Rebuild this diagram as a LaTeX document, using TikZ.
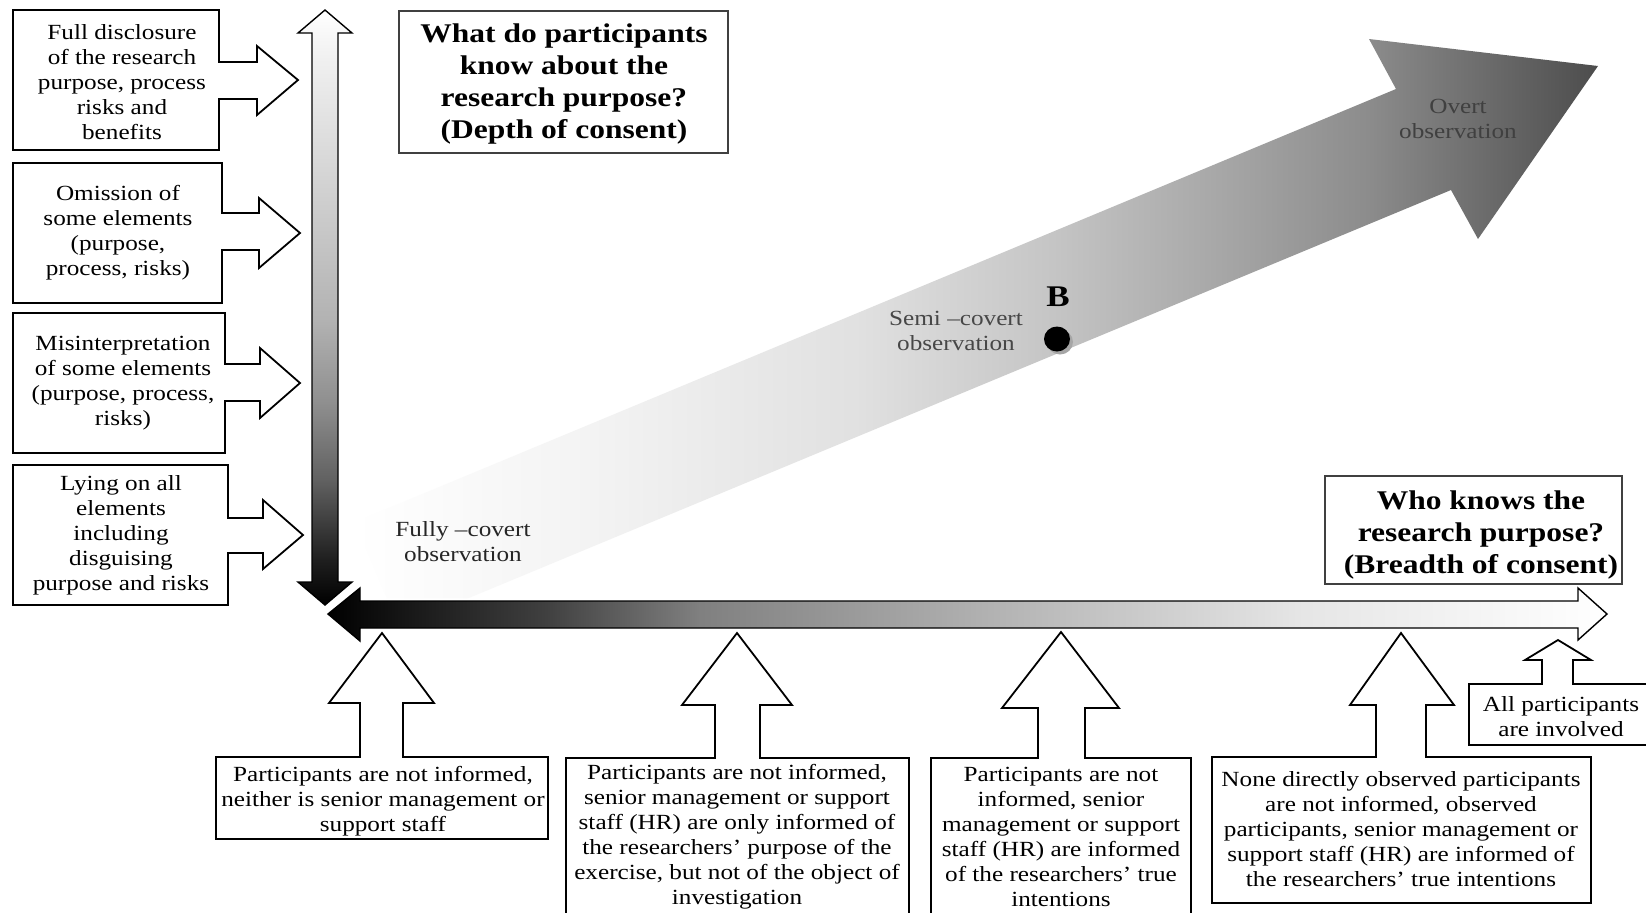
\documentclass[tikz,border=0pt]{standalone}
\usepackage{fontspec}
\setmainfont{Liberation Serif}[FakeStretch=1.167]
\newcommand\ntxt{\fontsize{10.8}{12.5}\selectfont}
\newcommand\ttxt{\fontsize{13.5}{15.9}\selectfont\bfseries}
\newcommand\wtxt{\fontsize{13.5}{16}\selectfont\bfseries}
\pgfdeclarehorizontalshading{diagshade}{100bp}{color(0bp)=(white); color(25bp)=(white); color(35bp)=(black!5); color(45.3bp)=(black!12); color(53.2bp)=(black!23); color(65.7bp)=(black!45); color(75bp)=(black!70); color(100bp)=(black!70)}
\pgfdeclarehorizontalshading{hshade}{100bp}{color(0bp)=(black); color(25bp)=(black); color(33.5bp)=(black!75); color(39.5bp)=(black!50); color(51bp)=(black!30); color(63bp)=(black!10); color(75bp)=(white); color(100bp)=(white)}
\pgfdeclareverticalshading{vshade}{100bp}{color(0bp)=(black); color(25bp)=(black); color(28.8bp)=(black!88); color(35.5bp)=(black!62); color(42bp)=(black!44); color(49bp)=(black!30); color(70.8bp)=(black!6); color(75bp)=(white); color(100bp)=(white)}
\tikzset{
  boxline/.style={draw=black, line width=0.9pt, fill=white, line join=miter},
  txt/.style={font=\ntxt, align=center, inner sep=0pt},
  ttl/.style={font=\ttxt, align=center, inner sep=0pt},
  wtl/.style={font=\wtxt, align=center, inner sep=0pt},
  qbox/.style={draw=black!75, line width=0.7pt, fill=white},
}
\begin{document}
\begin{tikzpicture}[x=0.5pt,y=-0.5pt]
\useasboundingbox (0,0) rectangle (1646,912);
\fill[white] (0,0) rectangle (1646,912);
\clip (0,0) rectangle (1646,912);

% diagonal arrow
\shade[shading=diagshade] (355,522) -- (1396,89) -- (1369,39) -- (1598,66) -- (1478,239) -- (1451,190) -- (399,627) -- cycle;

% vertical arrow
\shadedraw[shading=vshade, draw=black, line width=0.7pt] (325,10) -- (352,33) -- (338,33) -- (338,582) -- (352,582) -- (325,605) -- (298,582) -- (312,582) -- (312,33) -- (298,33) -- cycle;

% horizontal arrow
\draw[white, line width=2.6pt, line join=miter] (328,614) -- (360,588) -- (360,601) -- (1578,601) -- (1578,588) -- (1607,614) -- (1578,640) -- (1578,628) -- (360,628) -- (360,641) -- cycle;
\shadedraw[shading=hshade, draw=black, line width=0.7pt] (328,614) -- (360,588) -- (360,601) -- (1578,601) -- (1578,588) -- (1607,614) -- (1578,640) -- (1578,628) -- (360,628) -- (360,641) -- cycle;

% left boxes with arrows
\draw[boxline] (13,10) -- (219,10) -- (219,62) -- (257,62) -- (257,46) -- (298,80) -- (257,115) -- (257,99) -- (219,99) -- (219,150) -- (13,150) -- cycle;
\draw[boxline] (13,163) -- (222,163) -- (222,213) -- (259,213) -- (259,198) -- (300,233) -- (259,268) -- (259,250) -- (222,250) -- (222,303) -- (13,303) -- cycle;
\draw[boxline] (13,313) -- (225,313) -- (225,364) -- (260,364) -- (260,348) -- (300,383) -- (260,418) -- (260,401) -- (225,401) -- (225,453) -- (13,453) -- cycle;
\draw[boxline] (13,465) -- (228,465) -- (228,518) -- (263,518) -- (263,500) -- (303,535) -- (263,569) -- (263,553) -- (228,553) -- (228,605) -- (13,605) -- cycle;

\node[txt] (l1) at (122,82) {Full disclosure\\of the research\\purpose, process\\risks and\\benefits};
\node[txt] (l2) at (118,233) {Omission of\\some elements\\(purpose,\\process, risks)};
\node[txt] (l3) at (123,383) {Misinterpretation\\of some elements\\(purpose, process,\\risks)};
\node[txt] (l4) at (121,535) {Lying on all\\elements\\including\\disguising\\purpose and risks};

% bottom boxes with arrows
\draw[boxline] (216,757) -- (360,757) -- (360,703) -- (329,703) -- (382,633) -- (434,703) -- (403,703) -- (403,757) -- (548,757) -- (548,839) -- (216,839) -- cycle;
\draw[boxline] (566,758) -- (715,758) -- (715,705) -- (682,705) -- (737,633) -- (792,705) -- (760,705) -- (760,758) -- (909,758) -- (909,930) -- (566,930) -- cycle;
\draw[boxline] (931,758) -- (1038,758) -- (1038,708) -- (1002,708) -- (1061,632) -- (1119,708) -- (1085,708) -- (1085,758) -- (1191,758) -- (1191,930) -- (931,930) -- cycle;
\draw[boxline] (1212,757) -- (1376,757) -- (1376,705) -- (1350,705) -- (1401,633) -- (1454,705) -- (1426,705) -- (1426,757) -- (1591,757) -- (1591,903) -- (1212,903) -- cycle;
\draw[boxline] (1469,684) -- (1542,684) -- (1542,660) -- (1525,660) -- (1558,640) -- (1591,660) -- (1573,660) -- (1573,684) -- (1670,684) -- (1670,745) -- (1469,745) -- cycle;

\node[txt] (b1) at (383,801) {Participants are not informed,\\neither is senior management or\\support staff};
\node[txt] (b2) at (737,837) {Participants are not informed,\\senior management or support\\staff (HR) are only informed of\\the researchers’ purpose of the\\exercise, but not of the object of\\investigation};
\node[txt] (b3) at (1061,837) {Participants are not\\informed, senior\\management or support\\staff (HR) are informed\\of the researchers’ true\\intentions};
\node[txt] (b4) at (1401,829) {None directly observed participants\\are not informed, observed\\participants, senior management or\\support staff (HR) are informed of\\the researchers’ true intentions};
\node[txt] (b5) at (1561,717) {All participants\\are involved};

% question boxes
\draw[qbox] (399,11) rectangle (728,153);
\node[ttl] (q1) at (564,84) {What do participants\\know about the\\research purpose?\\(Depth of consent)};
\draw[qbox] (1325,476) rectangle (1622,584);
\node[wtl] (q2) at (1481,535) {Who knows the\\research purpose?\\(Breadth of consent)};

% diagonal labels
\node[txt, text=black!85] (fc) at (463,542) {Fully –covert\\observation};
\node[txt, text=black!72] (sc) at (956,331) {Semi –covert\\observation};
\node[txt, text=black!75] (ov) at (1458,119) {Overt\\observation};

% point B
\fill[black!35] (1060,342) ellipse [x radius=13, y radius=12.5];
\fill[black] (1057,339) ellipse [x radius=13, y radius=12.5];
\node[font=\fontsize{15}{15}\selectfont\bfseries, inner sep=0pt] (bl) at (1058,297) {B};
\end{tikzpicture}
\end{document}
